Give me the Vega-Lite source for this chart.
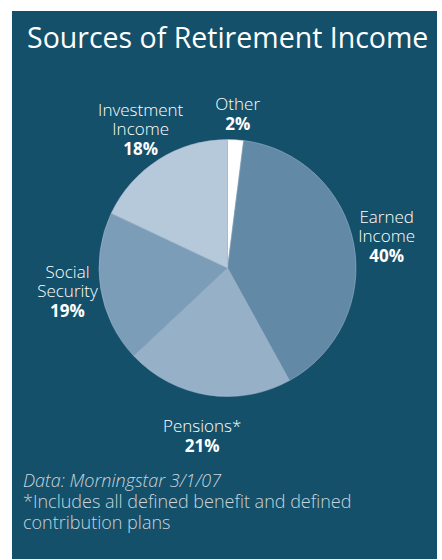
{
  "$schema": "https://vega.github.io/schema/vega-lite/v6.json",
  "background": "#ffffff",
  "padding": {"left": 12, "top": 11, "right": 5, "bottom": 1},
  "spacing": 0,
  "bounds": "flush",
  "title": {
    "text": "Data: Morningstar 3/1/07",
    "subtitle": ["*Includes all defined benefit and defined", "contribution plans"],
    "orient": "bottom",
    "anchor": "start",
    "frame": "group",
    "offset": -86,
    "dx": 11,
    "font": "Open Sans",
    "fontSize": 18,
    "fontStyle": "italic",
    "fontWeight": 300,
    "color": "#c9d4dd",
    "subtitleFont": "Open Sans",
    "subtitleFontSize": 18,
    "subtitleFontWeight": 300,
    "subtitleColor": "#c9d4dd",
    "subtitleLineHeight": 21,
    "subtitlePadding": 3
  },
  "vconcat": [
    {
      "width": 425,
      "height": 548,
      "view": {"fill": "#14506a", "stroke": null},
      "title": {
        "text": "Sources of Retirement Income",
        "orient": "top",
        "anchor": "start",
        "frame": "group",
        "offset": -42,
        "dx": 15,
        "font": "Open Sans",
        "fontSize": 28.5,
        "fontWeight": 500,
        "color": "#ffffff"
      },
      "data": {
        "values": [
          {"rank": 1, "source": "Other", "line1": "", "line2": "Other", "share": 0.02},
          {"rank": 2, "source": "Earned Income", "line1": "Earned", "line2": "Income", "share": 0.40},
          {"rank": 3, "source": "Pensions", "line1": "", "line2": "Pensions*", "share": 0.21},
          {"rank": 4, "source": "Social Security", "line1": "Social", "line2": "Security", "share": 0.19},
          {"rank": 5, "source": "Investment Income", "line1": "Investment", "line2": "Income", "share": 0.18}
        ]
      },
      "encoding": {
        "theta": {"field": "share", "type": "quantitative", "stack": true},
        "order": {"field": "rank", "type": "ordinal"},
        "color": {
          "field": "source",
          "type": "nominal",
          "scale": {
            "domain": ["Other", "Earned Income", "Pensions", "Social Security", "Investment Income"],
            "range": ["#ffffff", "#6289a6", "#96b0c7", "#7b9db8", "#b6c9da"]
          },
          "legend": null
        }
      },
      "layer": [
        {
          "mark": {"type": "arc", "outerRadius": 128.5, "xOffset": 3, "yOffset": -17, "stroke": "#a8bdd0", "strokeWidth": 0.5}
        },
        {
          "mark": {"type": "text", "radius": 162, "xOffset": 3, "yOffset": -7, "dy": -21, "baseline": "bottom", "align": "center", "font": "Open Sans", "fontSize": 17, "fontWeight": 300},
          "encoding": {
            "text": {"field": "line1", "type": "nominal"},
            "fill": {"value": "#ffffff"}
          }
        },
        {
          "mark": {"type": "text", "radius": 162, "xOffset": 3, "yOffset": -7, "dy": -2, "baseline": "bottom", "align": "center", "font": "Open Sans", "fontSize": 17, "fontWeight": 300},
          "encoding": {
            "text": {"field": "line2", "type": "nominal"},
            "fill": {"value": "#ffffff"}
          }
        },
        {
          "mark": {"type": "text", "radius": 162, "xOffset": 3, "yOffset": -7, "dy": 1, "baseline": "top", "align": "center", "font": "Open Sans", "fontSize": 17, "fontWeight": 700},
          "encoding": {
            "text": {"field": "share", "type": "quantitative", "format": ".0%"},
            "fill": {"value": "#ffffff"}
          }
        }
      ]
    }
  ]
}
